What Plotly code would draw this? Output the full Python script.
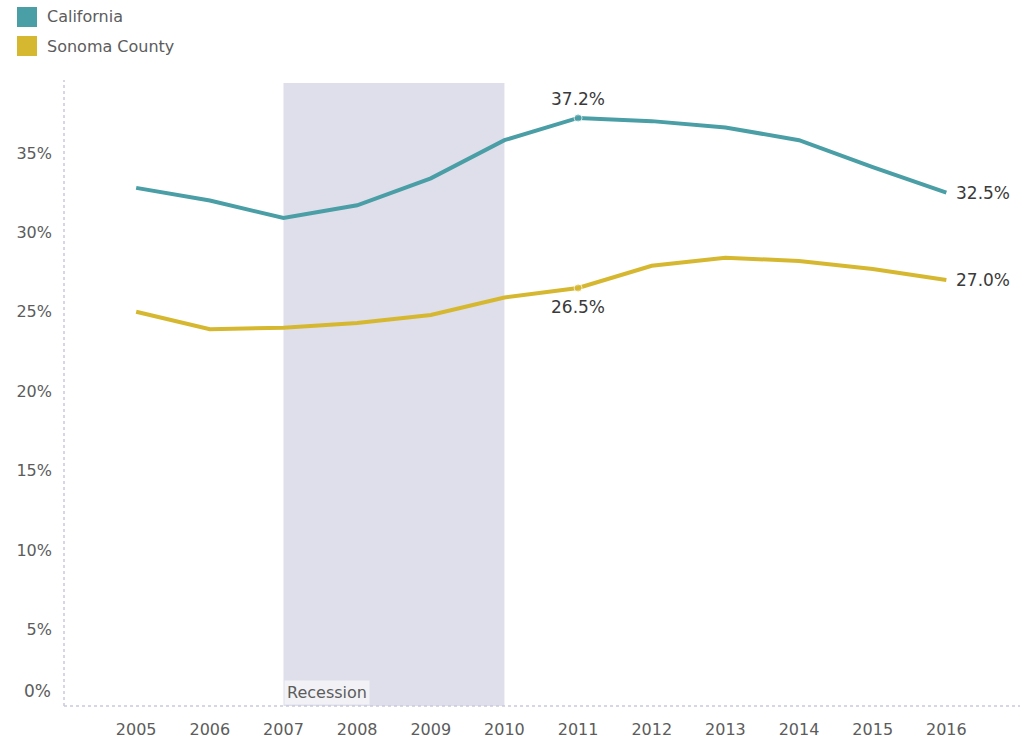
import plotly.graph_objects as go

# Share of cost-burdened households, by year
years = [2005, 2006, 2007, 2008, 2009, 2010, 2011, 2012, 2013, 2014, 2015, 2016]
california = [32.8, 32.0, 30.9, 31.7, 33.4, 35.8, 37.2, 37.0, 36.6, 35.8, 34.1, 32.5]
sonoma = [25.0, 23.9, 24.0, 24.3, 24.8, 25.9, 26.5, 27.9, 28.4, 28.2, 27.7, 27.0]

series_names = ["California", "Sonoma County"]
series_colors = ["#4A9EA5", "#D6B830"]

recession_start, recession_end = 2007, 2010
y_ticks = [5, 10, 15, 20, 25, 30, 35]

FONT = "DejaVu Sans"
TEXT = "#5C5C5C"
AXIS = "#C9C9DD"

W, H = 1027, 741
ml, mr, mt, mb = 64, 7, 83, 35
x_range = [2004.02, 2017.0]
y_range = [0.19, 39.4]

fig = go.Figure()

# recession band spanning the full plot height
fig.add_shape(type="rect", xref="x", yref="paper",
              x0=recession_start, x1=recession_end, y0=0, y1=1,
              fillcolor="#DFDFEB", line_width=0, layer="below")

label_idx = 6  # 2011
for vals, color, pos in [(california, series_colors[0], "top"),
                         (sonoma, series_colors[1], "bottom")]:
    sizes = [8 if i == label_idx else 0 for i in range(len(years))]
    fig.add_trace(go.Scatter(
        x=years, y=vals, mode="lines+markers",
        line=dict(color=color, width=4),
        marker=dict(size=sizes, color=color),
        showlegend=False, hoverinfo="skip"))
    # peak / midpoint label
    fig.add_annotation(x=years[label_idx], y=vals[label_idx],
                       text=f"{vals[label_idx]:.1f}%", showarrow=False,
                       yshift=19 if pos == "top" else -19,
                       font=dict(family=FONT, size=17, color="#3A3A3A"))
    # end label
    fig.add_annotation(x=years[-1], y=vals[-1], text=f"{vals[-1]:.1f}%",
                       showarrow=False, xanchor="left", xshift=8,
                       font=dict(family=FONT, size=17, color="#3A3A3A"))

# recession caption in the lower-left corner of the band
fig.add_annotation(x=recession_start, y=0, xref="x", yref="paper",
                   xanchor="left", yanchor="bottom", yshift=1, xshift=1,
                   text="Recession", showarrow=False, bgcolor="#F2F2F6",
                   borderpad=2,
                   font=dict(family=FONT, size=16, color=TEXT))

# 0% tick label, nudged up to sit inside the axis
fig.add_annotation(x=0, xref="paper", y=0, yref="paper", xanchor="right",
                   yanchor="bottom", xshift=-11, yshift=3, text="0%",
                   showarrow=False, font=dict(family=FONT, size=17, color=TEXT))

# axis lines: dotted left, dashed bottom
fig.add_shape(type="line", xref="paper", yref="paper", x0=0, x1=0, y0=0, y1=1.005,
              line=dict(color=AXIS, width=1.5, dash="dot"))
fig.add_shape(type="line", xref="paper", yref="paper", x0=0, x1=1, y0=0, y1=0,
              line=dict(color=AXIS, width=1.5, dash="dot"))

# legend swatches and names
for i, (name, color) in enumerate(zip(series_names, series_colors)):
    yc = 17 + 29 * i
    fig.add_shape(type="rect", xref="paper", yref="paper",
                  x0=(17 - ml) / (W - ml - mr), x1=(37 - ml) / (W - ml - mr),
                  y0=(H - mb - (yc + 10)) / (H - mt - mb),
                  y1=(H - mb - (yc - 10)) / (H - mt - mb),
                  fillcolor=color, line_width=0)
    fig.add_annotation(xref="paper", yref="paper",
                       x=(45 - ml) / (W - ml - mr),
                       y=(H - mb - yc) / (H - mt - mb),
                       xanchor="left", yanchor="middle", text=name,
                       showarrow=False,
                       font=dict(family=FONT, size=16, color=TEXT))

fig.update_layout(
    width=W, height=H,
    margin=dict(l=ml, r=mr, t=mt, b=mb, autoexpand=False),
    paper_bgcolor="white", plot_bgcolor="white",
    font=dict(family=FONT, color=TEXT),
    xaxis=dict(range=x_range, tickvals=years, ticktext=[str(y) for y in years],
               showgrid=False, zeroline=False, showline=False,
               ticks="", ticklabelstandoff=12, automargin=False,
               tickfont=dict(family=FONT, size=16, color=TEXT)),
    yaxis=dict(range=y_range, tickvals=y_ticks,
               ticktext=[f"{v}%" for v in y_ticks],
               showgrid=False, zeroline=False, showline=False,
               ticks="", ticklabelstandoff=11, automargin=False,
               tickfont=dict(family=FONT, size=16, color=TEXT)),
)

fig.write_html("out.html")
